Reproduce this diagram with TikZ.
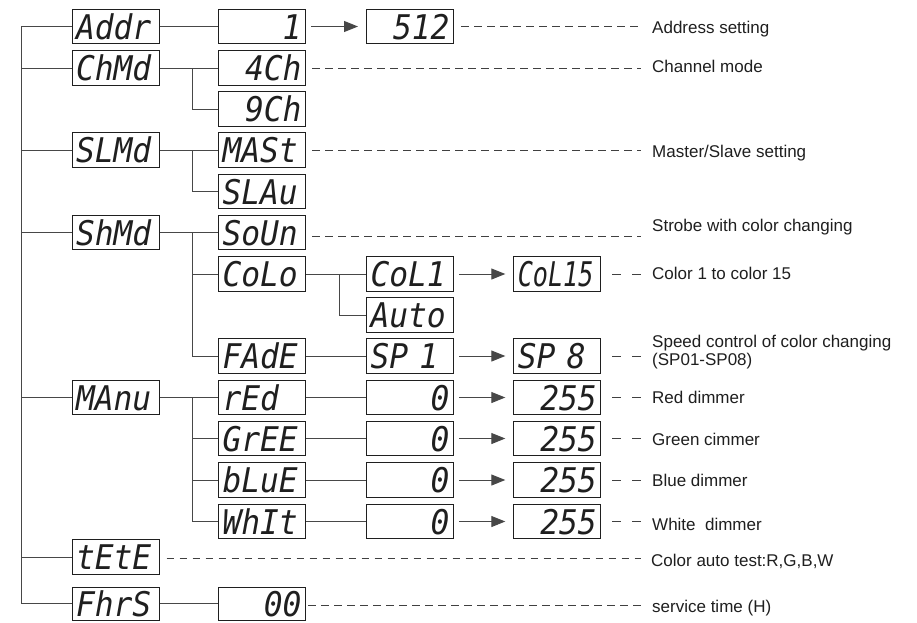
\documentclass[tikz,border=0pt]{standalone}
\usepackage{fontspec}
\setmainfont{Liberation Sans}
\newfontfamily\segfont{DejaVu Sans Mono}[FakeStretch=0.92]
\newfontfamily\segfontn{DejaVu Sans Mono}[FakeStretch=0.74]
\usetikzlibrary{arrows.meta}
\begin{document}
\begin{tikzpicture}[x=1pt,y=-1pt,
  box/.style={draw=black!88, line width=1pt, minimum height=34.5pt, text width=79pt,
    inner xsep=4pt, inner ysep=0pt, text height=25pt, text depth=0pt,
    text=black!88, font=\segfont\itshape\fontsize{34}{34}\selectfont},
  boxl/.style={box, align=left},
  boxr/.style={box, align=right},
  conn/.style={draw=black!72, line width=1pt},
  arr/.style={conn, -{Triangle[length=14pt,width=11pt]}, shorten <=5pt, shorten >=8pt},
  dashl/.style={draw=black!75, line width=1pt, dash pattern=on 7.5pt off 5.5pt},
  dashs/.style={draw=black!75, line width=1pt, dash pattern=on 8.3pt off 11.7pt},
  lab/.style={anchor=base west, inner sep=0pt, font=\fontsize{17}{18.3}\selectfont, text=black!88}]
\clip (0,0) rectangle (917,622);
\fill[white] (0,0) rectangle (917,622);
% column 1
\node[boxl] (addr) at (115.5,26.5) {Addr};
\node[boxl] (chmd) at (115.5,68) {ChMd};
\node[boxl] (slmd) at (115.5,150) {SLMd};
\node[boxl] (shmd) at (115.5,232.5) {ShMd};
\node[boxl] (manu) at (115.5,397.5) {MAnu};
\node[boxl] (tete) at (115.5,557) {tEtE};
\node[boxl, minimum height=33pt] (fhrs) at (115.5,603.8) {FhrS};
% column 2
\node[boxr] (v1) at (262,26.5) {1};
\node[boxr] (ch4) at (262,68) {4Ch};
\node[boxr] (ch9) at (262,109) {9Ch};
\node[boxl] (mast) at (262,150) {MASt};
\node[boxl] (slau) at (262,191.5) {SLAu};
\node[boxl] (soun) at (262,232.5) {SoUn};
\node[boxl] (colo) at (262,274) {CoLo};
\node[boxl] (fade) at (262,356) {FAdE};
\node[boxl] (red) at (262,397.5) {rEd};
\node[boxl] (gree) at (262,438.5) {GrEE};
\node[boxl] (blue) at (262,480) {bLuE};
\node[boxl] (whit) at (262,521.5) {WhIt};
\node[boxr, minimum height=33pt] (hrs) at (262,603.8) {00};
% column 3
\node[boxr] (v512) at (410,26.5) {512};
\node[boxl] (col1) at (410,274) {CoL1};
\node[boxl] (auto) at (410,315) {Auto};
\node[boxl] (sp1) at (410,356) {SP 1};
\node[boxr] (r0) at (410,397.5) {0};
\node[boxr] (g0) at (410,438.5) {0};
\node[boxr] (b0) at (410,480) {0};
\node[boxr] (w0) at (410,521.5) {0};
% column 4
\node[boxl, font=\segfontn\itshape\fontsize{34}{34}\selectfont] (col15) at (557.3,274) {CoL15};
\node[boxl] (sp8) at (557.3,356) {SP 8};
\node[boxr] (r255) at (557.3,397.5) {255};
\node[boxr] (g255) at (557.3,438.5) {255};
\node[boxr] (b255) at (557.3,480) {255};
\node[boxr] (w255) at (557.3,521.5) {255};
% bus coordinates
\coordinate (T) at (21.5,0);
\coordinate (B2) at (192,0);
\coordinate (B3) at (339,0);
\coordinate (E) at (641,0);
% trunk
\draw[conn] (addr.west) -- (addr.west -| T) -- (fhrs.west -| T) -- (fhrs.west);
\foreach \n in {chmd,slmd,shmd,manu,tete} \draw[conn] (\n.west) -- (\n.west -| T);
% column 1 -> 2
\draw[conn] (addr.east) -- (v1.west);
\draw[conn] (chmd.east) -- (ch4.west);
\draw[conn] (ch4.west -| B2) |- (ch9.west);
\draw[conn] (slmd.east) -- (mast.west);
\draw[conn] (mast.west -| B2) |- (slau.west);
\draw[conn] (shmd.east) -- (soun.west);
\draw[conn] (soun.west -| B2) |- (fade.west);
\draw[conn] (colo.west -| B2) -- (colo.west);
\draw[conn] (manu.east) -- (red.west);
\draw[conn] (red.west -| B2) |- (whit.west);
\draw[conn] (gree.west -| B2) -- (gree.west);
\draw[conn] (blue.west -| B2) -- (blue.west);
\draw[conn] (fhrs.east) -- (hrs.west);
% column 2 -> 3
\draw[arr] (v1.east) -- (v512.west);
\draw[conn] (colo.east) -- (col1.west);
\draw[conn] (col1.west -| B3) |- (auto.west);
\draw[conn] (fade.east) -- (sp1.west);
\draw[conn] (red.east) -- (r0.west);
\draw[conn] (gree.east) -- (g0.west);
\draw[conn] (blue.east) -- (b0.west);
\draw[conn] (whit.east) -- (w0.west);
% column 3 -> 4
\draw[arr] (col1.east) -- (col15.west);
\draw[arr] (sp1.east) -- (sp8.west);
\draw[arr] (r0.east) -- (r255.west);
\draw[arr] (g0.east) -- (g255.west);
\draw[arr] (b0.east) -- (b255.west);
\draw[arr] (w0.east) -- (w255.west);
% dashed leaders
\draw[dashl] ([xshift=7pt]v512.east) -- (v512.east -| E);
\draw[dashl] ([xshift=6pt]ch4.east) -- (ch4.east -| E);
\draw[dashl] ([xshift=6pt]mast.east) -- (mast.east -| E);
\draw[dashl] ([xshift=6pt,yshift=-4pt]soun.east) -- ([yshift=-4pt]soun.east -| E);
\draw[dashl] ([xshift=7pt,yshift=-1.5pt]tete.east) -- ([yshift=-1.5pt]tete.east -| E);
\draw[dashl] ([xshift=2pt,yshift=-2pt]hrs.east) -- ([yshift=-2pt]hrs.east -| E);
\foreach \n in {col15,sp8,r255,g255,b255,w255}
  \draw[dashs] ([xshift=11pt]\n.east) -- (\n.east -| E);
% labels
\node[lab] (l1) at (652,33.9) {Address setting};
\node[lab] (l2) at (652,72.9) {Channel mode};
\node[lab] (l3) at (652,157.6) {Master/Slave setting};
\node[lab] (l4) at (652,231.4) {Strobe with color changing};
\node[lab] (l5) at (652,279.8) {Color 1 to color 15};
\node[lab, anchor=north west, align=left] (l6) at (652,335) {Speed control of color changing\\(SP01-SP08)};
\node[lab] (l7) at (652,403.6) {Red dimmer};
\node[lab] (l8) at (652,445.1) {Green cimmer};
\node[lab] (l9) at (652,486.9) {Blue dimmer};
\node[lab] (l10) at (652,530.1) {White~ dimmer};
\node[lab] (l11) at (651,566.6) {Color auto test:R,G,B,W};
\node[lab] (l12) at (652,612.3) {service time (H)};
\end{tikzpicture}
\end{document}
